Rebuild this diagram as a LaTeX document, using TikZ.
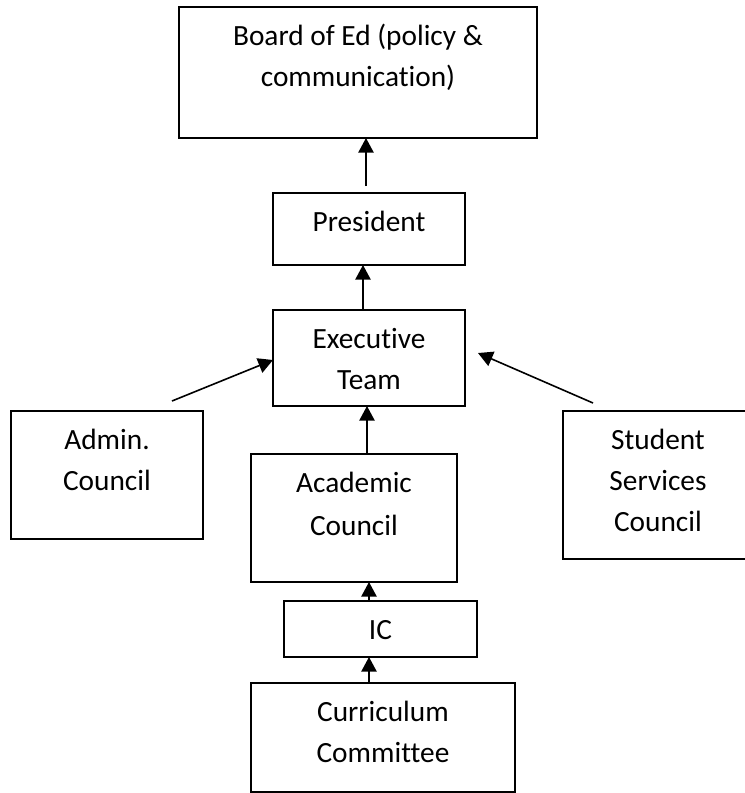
\documentclass[tikz,border=0pt]{standalone}
\usepackage{fontspec}
\setmainfont{Carlito}[Ligatures=NoCommon]
\usetikzlibrary{arrows.meta,calc}

% Box text: width, height, lines (top aligned, first baseline 28.5pt below the top edge)
\newcommand\orgtext[3]{\parbox[c][#2][t]{#1}{\centering\rule{0pt}{28.5pt}#3}}

\tikzset{
  orgbox/.style={draw=black, line width=1.3pt, fill=white, inner sep=0pt, outer sep=0pt,
    font=\fontsize{22pt}{30.75pt}\selectfont},
  uparrow/.style={draw=black, line width=1.2pt, -{Triangle[length=11pt,width=11.5pt]}}
}

\begin{document}
\begin{tikzpicture}[x=0.75pt, y=-0.75pt]
  \useasboundingbox (0,0) rectangle (745,793);
  \fill[white] (0,0) rectangle (745,793);

  % Boxes of the chart
  \node[orgbox] (board) at (358,72.5) {\orgtext{268.5pt}{98.25pt}{Board of Ed (policy \&\\communication)}};
  \node[orgbox] (pres)  at (369,229)  {\orgtext{144pt}{54pt}{President}};
  \node[orgbox] (exec)  at (369,358)  {\orgtext{144pt}{72pt}{Executive\\Team}};
  \node[orgbox] (admin) at (107,475)  {\orgtext{144pt}{96pt}{Admin.\\Council}};
  \node[orgbox] (ss)    at (658,485)  {\orgtext{142.5pt}{111pt}{Student\\Services\\Council}};
  \node[orgbox] (acad)  at (354,518)  {\orgtext{154.5pt}{96pt}{Academic\\[2pt]Council}};
  \node[orgbox] (ic)    at (380.5,629){\orgtext{144.75pt}{42pt}{IC}};
  \node[orgbox] (curr)  at (383,737.5){\orgtext{198pt}{81.75pt}{Curriculum\\Committee}};

  % Connector end points
  \coordinate (presTop)  at ($(pres.north)+(-3,-7)$);
  \coordinate (presLine) at ($(pres.north)+(-3,0)$);
  \coordinate (execTop)  at ($(exec.north)+(-6,0)$);
  \coordinate (execBot)  at ($(exec.south)+(-2,0)$);
  \coordinate (icTop)    at ($(ic.north)+(-11.5,0)$);
  \coordinate (currTop)  at ($(curr.north)+(-14,0)$);
  \coordinate (adminTail) at ($(admin.north east)+(-31,-10)$);
  \coordinate (adminTip)  at ($(exec.west)+(0,2)$);
  \coordinate (ssTail)    at ($(ss.north west)+(30,-8)$);
  \coordinate (ssTip)     at ($(exec.east)+(13,-5)$);

  % Reporting lines
  \draw[uparrow] (presTop) -- (presLine |- board.south);
  \draw[uparrow] (execTop) -- (execTop |- pres.south);
  \draw[uparrow] (execBot |- acad.north) -- (execBot);
  \draw[uparrow] (icTop) -- (icTop |- acad.south);
  \draw[uparrow] (currTop) -- (currTop |- ic.south);
  \draw[uparrow] (adminTail) -- (adminTip);
  \draw[uparrow] (ssTail) -- (ssTip);
\end{tikzpicture}
\end{document}
